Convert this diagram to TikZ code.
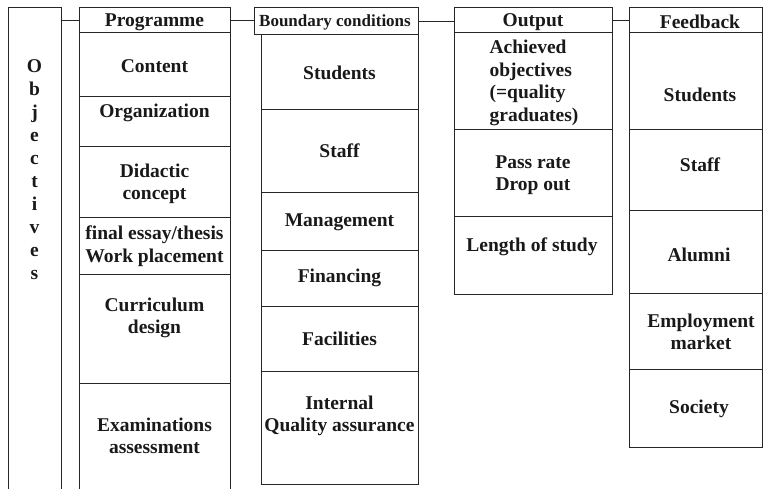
\documentclass[tikz,border=0pt]{standalone}
\usepackage{fontspec}
\setmainfont{Liberation Serif}
\newcommand\mkcell[5]{\node[cellbox, minimum width={#4-#2}, minimum height={#5-#3}] (#1) at (#2,#3) {};}
\begin{document}
\begin{tikzpicture}[x=1pt,y=-1pt,
  line/.style={draw=black!85, line width=1pt},
  cellbox/.style={line, rectangle, inner sep=0pt, outer sep=0pt, anchor=north west},
  lbl/.style={font=\fontsize{19.5}{22.5}\selectfont\bfseries, align=center, inner sep=0pt, text=black!90},
  smalllbl/.style={lbl, font=\fontsize{17}{20}\selectfont\bfseries},
]
\useasboundingbox (0,0) rectangle (763,489);

% Objectives
\mkcell{objbox}{8}{8}{61}{500}
\node[lbl, font=\fontsize{19.5}{23}\selectfont\bfseries] (objtxt) at (34.5,170) {O\\b\\j\\e\\c\\t\\i\\v\\e\\s};

% Programme column
\mkcell{progh}{79}{8}{230}{33}
\mkcell{pc1}{79}{33}{230}{97}
\mkcell{pc2}{79}{97}{230}{147}
\mkcell{pc3}{79}{147}{230}{218}
\mkcell{pc4}{79}{218}{230}{274}
\mkcell{pc5}{79}{274}{230}{383}
\mkcell{pc6}{79}{383}{230}{500}
\node[lbl] (tprog) at (154.5,22) {Programme};
\node[lbl] (tp1) at (154.5,66) {Content};
\node[lbl] (tp2) at (154.5,113) {Organization};
\node[lbl] (tp3) at (154.5,184) {Didactic\\concept};
\node[lbl] (tp4) at (154.5,246) {final essay/thesis\\Work placement};
\node[lbl] (tp5) at (154.5,318) {Curriculum\\design};
\node[lbl] (tp6) at (154.5,436) {Examinations\\assessment};

% Boundary conditions column
\mkcell{bch}{254}{8}{418}{35}
\mkcell{bc1}{261}{35}{418}{110}
\mkcell{bc2}{261}{110}{418}{193}
\mkcell{bc3}{261}{193}{418}{250}
\mkcell{bc4}{261}{250}{418}{306}
\mkcell{bc5}{261}{306}{418}{371}
\mkcell{bc6}{261}{371}{418}{484}
\node[smalllbl] (tbc) at (335,22) {Boundary conditions};
\node[lbl] (tb1) at (339.5,73) {Students};
\node[lbl] (tb2) at (339.5,151) {Staff};
\node[lbl] (tb3) at (339.5,222) {Management};
\node[lbl] (tb4) at (339.5,278) {Financing};
\node[lbl] (tb5) at (339.5,339) {Facilities};
\node[lbl] (tb6) at (339.5,416) {Internal\\Quality assurance};

% Output column
\mkcell{outh}{454}{8}{612}{33}
\mkcell{oc1}{454}{33}{612}{130}
\mkcell{oc2}{454}{130}{612}{217}
\mkcell{oc3}{454}{217}{612}{294}
\node[lbl] (tout) at (533,22) {Output};
\node[lbl, align=left] (to1) at (534,83) {Achieved\\objectives\\(=quality\\graduates)};
\node[lbl] (to2) at (533,175) {Pass rate\\Drop out};
\node[lbl] (to3) at (532,247) {Length of study};

% Feedback column
\mkcell{fbh}{629}{8}{762}{33}
\mkcell{fc1}{629}{33}{762}{130}
\mkcell{fc2}{629}{130}{762}{211}
\mkcell{fc3}{629}{211}{762}{293}
\mkcell{fc4}{629}{293}{762}{369}
\mkcell{fc5}{629}{369}{762}{447}
\node[lbl] (tfb) at (700,22) {Feedback};
\node[lbl] (tf1) at (700,95) {Students};
\node[lbl] (tf2) at (700,165) {Staff};
\node[lbl] (tf3) at (699,255) {Alumni};
\node[lbl] (tf4) at (701,332) {Employment\\market};
\node[lbl] (tf5) at (699,409) {Society};

% Connectors
\draw[line] (progh.west -| objbox.east) -- (progh.west);
\draw[line] (progh.east) -- (progh.east -| bch.west);
\draw[line] (bch.east) -- (bch.east -| outh.west);
\draw[line] (outh.east) -- (outh.east -| fbh.west);
\end{tikzpicture}
\end{document}
